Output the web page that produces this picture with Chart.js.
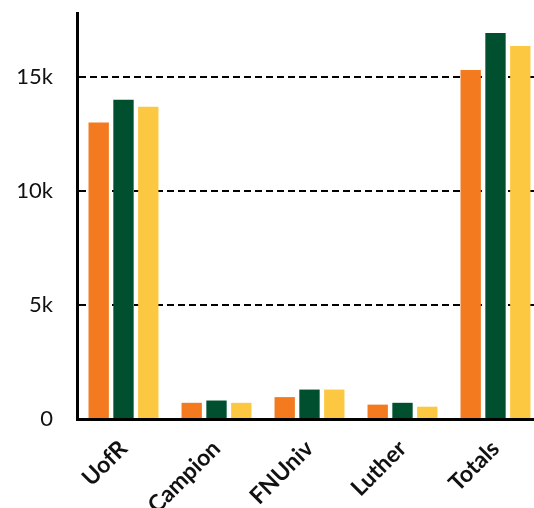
<!DOCTYPE html>
<html>
<head>
<meta charset="utf-8">
<script src="https://cdn.jsdelivr.net/npm/chart.js@4"></script>
<style>
  html, body { margin: 0; padding: 0; background: #fff; overflow: hidden; }
  /* the plot runs a little past the right edge in the original, so the canvas is wider and clipped */
  .wrap { width: 534px; height: 508px; overflow: hidden; }
</style>
</head>
<body>
<div class="wrap"><canvas id="chart" width="542" height="508"></canvas></div>
<script>
// values
const categories = ["UofR", "Campion", "FNUniv", "Luther", "Totals"];
const seriesA = [13000, 710, 960, 630, 15300];
const seriesB = [14000, 810, 1290, 710, 16920];
const seriesC = [13690, 710, 1290, 540, 16350];
const yTicks = [0, 5000, 10000, 15000];

const colors = ["#F37A1F", "#00502F", "#FDC841"];

document.addEventListener("DOMContentLoaded", () => {
  const ctx = document.getElementById("chart");

  new Chart(ctx, {
    type: "bar",
    data: {
      labels: categories,
      datasets: [
        { label: "A", data: seriesA, backgroundColor: colors[0] },
        { label: "B", data: seriesB, backgroundColor: colors[1] },
        { label: "C", data: seriesC, backgroundColor: colors[2] },
      ],
    },
    options: {
      responsive: false,
      animation: false,
      categoryPercentage: 0.8,
      barPercentage: 0.82,
      layout: { padding: { top: 13, right: 0, left: 0, bottom: 0 } },
      plugins: {
        legend: { display: false },
        tooltip: { enabled: false },
      },
      scales: {
        x: {
          grid: { display: false, drawTicks: false },
          border: { display: true, color: "#000", width: 3 },
          ticks: {
            color: "#111",
            font: { family: "Lato", size: 23, weight: "bold" },
            minRotation: 45,
            maxRotation: 45,
            padding: 16,
          },
          afterFit: (scale) => {
            scale.height = 89;
            scale.paddingLeft = 0;
            scale.paddingRight = 0;
          },
        },
        y: {
          min: 0,
          max: 17800,
          grid: {
            drawTicks: false,
            lineWidth: 2,
            color: (c) => (c.tick && c.tick.value === 0 ? "rgba(0,0,0,0)" : "#000"),
          },
          border: { display: true, color: "#000", width: 3, dash: [7, 4] },
          ticks: {
            color: "#111",
            padding: 24,
            font: { family: "Lato", size: 22 },
            callback: (v) => (v === 0 ? "0" : v / 1000 + "k"),
          },
          afterBuildTicks: (scale) => { scale.ticks = yTicks.map((v) => ({ value: v })); },
          afterFit: (scale) => {
            scale.width = 77;
            scale.paddingTop = 0;
            scale.paddingBottom = 0;
          },
        },
      },
    },
  });
});
</script>
</body>
</html>
